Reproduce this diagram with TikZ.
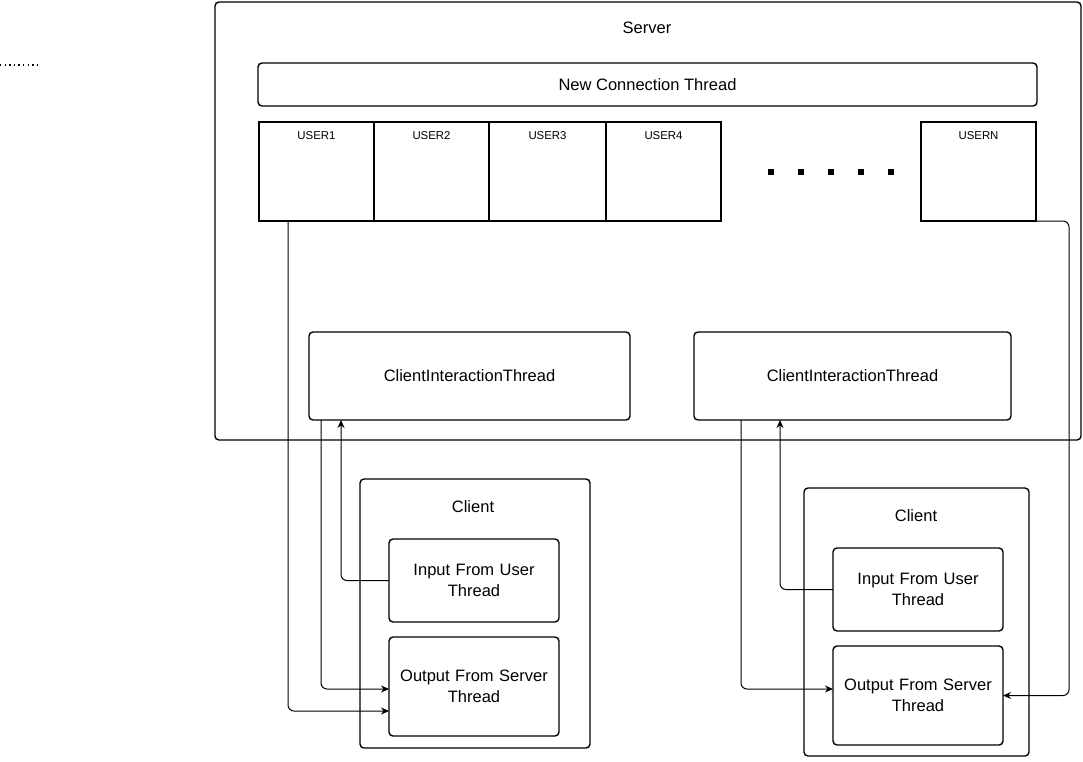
\documentclass[tikz,border=0pt]{standalone}
\usepackage{fontspec}
\setmainfont{Liberation Sans}
\usepackage{tikz}
\usetikzlibrary{arrows.meta}
\usetikzlibrary{positioning}

\tikzset{
  box/.style={draw, line width=1.4pt, rounded corners=4pt, inner sep=0pt, outer sep=0pt, align=center},
  userbox/.style={draw, line width=1.6pt, minimum width=115pt, minimum height=99pt, inner sep=0pt, outer sep=0pt},
  usertext/.style={anchor=north, yshift=-9pt, inner sep=0pt, font=\fontsize{11.4}{13}\selectfont},
  link/.style={line width=1pt, rounded corners=6pt, -{Stealth[length=8pt,width=7pt]}}
}

\begin{document}
\begin{tikzpicture}
          [x=1pt, y=-1pt, font=\fontsize{16.5}{21}\selectfont]
          \useasboundingbox (0,0) rectangle (1083,761);

          % server side
          \node (server) [box, minimum width=866pt, minimum height=438pt] at (648,221) {};
          \node (srvlbl) at (647,28) {Server};
          \node (nct) [box, minimum width=779pt, minimum height=43pt] at (647.5,84.5) {New Connection Thread};

          \node (u1) [userbox, label={[usertext]north:USER1}] at (316.5,171.5) {};
          \node (u2) [userbox, right = 0pt of u1, label={[usertext]north:USER2}] {};
          \node (u3) [userbox, right = 0pt of u2, minimum width=117pt, label={[usertext]north:USER3}] {};
          \node (u4) [userbox, right = 0pt of u3, label={[usertext]north:USER4}] {};
          \node (un) [userbox, label={[usertext]north:USERN}] at (978.5,171.5) {};
          \foreach \i in {0,...,4}
            \fill ({771+30*\i-3},169) rectangle ++(6,6);

          \node (cit1) [box, minimum width=321pt, minimum height=88pt] at (469.5,376) {ClientInteractionThread};
          \node (cit2) [box, minimum width=317pt, minimum height=88pt] at (852.5,376) {ClientInteractionThread};

          % clients
          \node (client1) [box, minimum width=230pt, minimum height=269pt] at (475,613.5) {};
          \node (c1lbl) at (473,507) {Client};
          \node (in1) [box, minimum width=170pt, minimum height=83pt, text width=160pt] at (474,580.5) {Input From User\\Thread};
          \node (out1) [box, minimum width=170pt, minimum height=99pt, text width=160pt] at (474,686.5) {Output From Server\\Thread};

          \node (client2) [box, minimum width=225pt, minimum height=268pt] at (916.5,622) {};
          \node (c2lbl) at (916,516) {Client};
          \node (in2) [box, minimum width=170pt, minimum height=83pt, text width=160pt] at (918,589.5) {Input From User\\Thread};
          \node (out2) [box, minimum width=170pt, minimum height=99pt, text width=160pt] at (918,695.5) {Output From Server\\Thread};

          \coordinate (dotl) at (0,65);
          \coordinate (dotr) at (41,65);
          \draw[line width=1.4pt, dash pattern=on 1.4pt off 3.2pt] (dotl) -- (dotr);

          \draw[link] ([xshift=-28.5pt]u1.south) |- ([yshift=-24.5pt]out1.west);
          \draw[link] ([xshift=-148.5pt]cit1.south) |- ([yshift=-2.5pt]out1.west);
          \draw[link] (in1.west) -| ([xshift=-128.5pt]cit1.south);
          \draw[link] ([xshift=-111.5pt]cit2.south) |- ([yshift=6.5pt]out2.west);
          \draw[link] (in2.west) -| ([xshift=-72.5pt]cit2.south);
          \draw[link] (un.south east) -- ++(33,0) |- (out2.east);

        \end{tikzpicture}
\end{document}
